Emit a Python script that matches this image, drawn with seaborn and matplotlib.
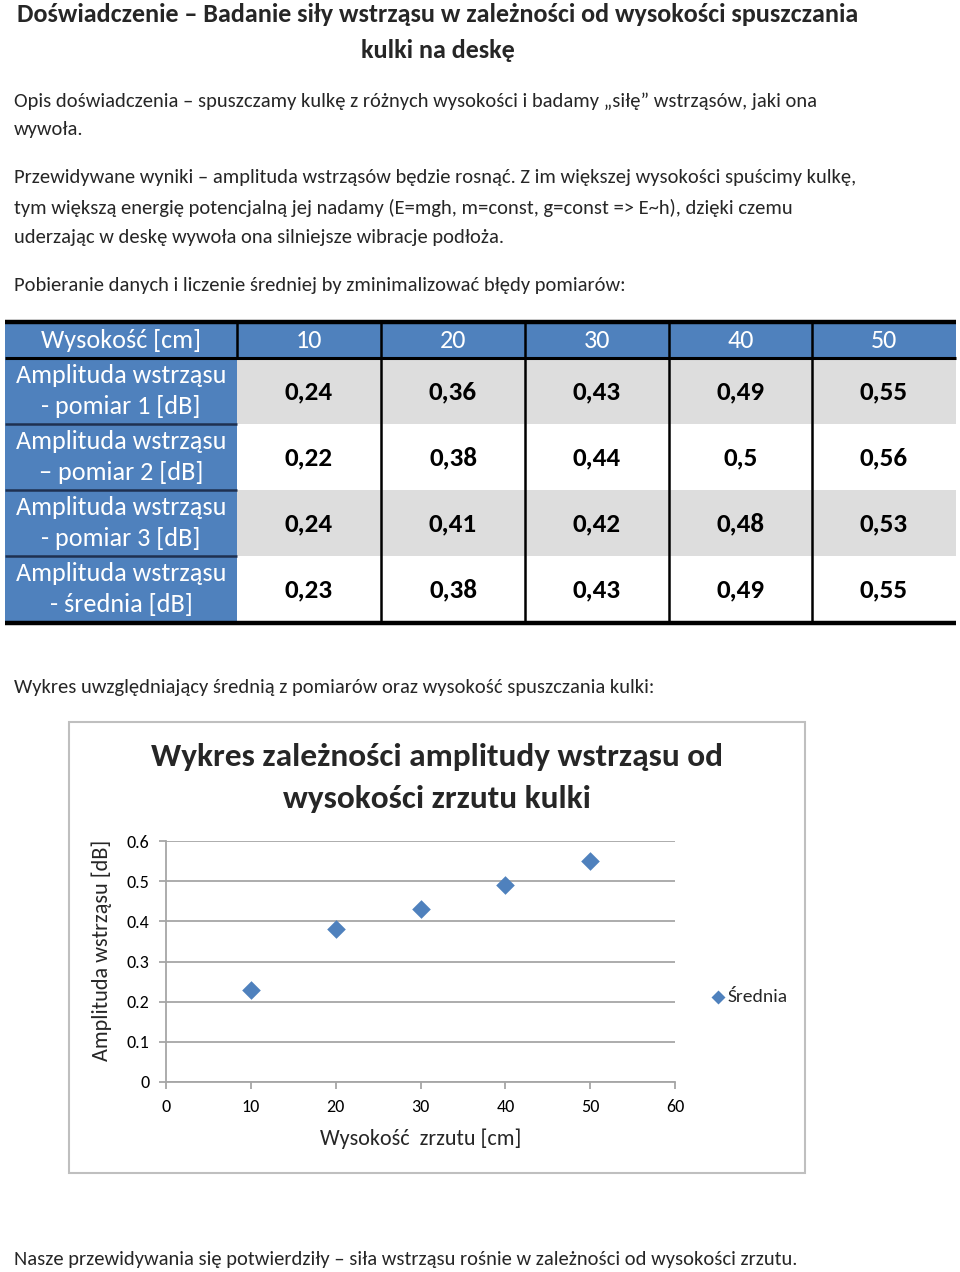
import matplotlib
matplotlib.use("Agg")
import matplotlib.pyplot as plt
from matplotlib import font_manager
from matplotlib.patches import Rectangle
import seaborn as sns
import pandas as pd

# ---------------- data ----------------
heights = [10, 20, 30, 40, 50]
pomiar1 = [0.24, 0.36, 0.43, 0.49, 0.55]
pomiar2 = [0.22, 0.38, 0.44, 0.50, 0.56]
pomiar3 = [0.24, 0.41, 0.42, 0.48, 0.53]
srednia = [0.23, 0.38, 0.43, 0.49, 0.55]

header_label = "Wysokość [cm]"
row_labels = ["Amplituda wstrząsu\n- pomiar 1 [dB]",
              "Amplituda wstrząsu\n– pomiar 2 [dB]",
              "Amplituda wstrząsu\n- pomiar 3 [dB]",
              "Amplituda wstrząsu\n- średnia [dB]"]

title_lines = ["Doświadczenie – Badanie siły wstrząsu w zależności od wysokości spuszczania",
               "kulki na deskę"]
body_lines = [
    "Opis doświadczenia – spuszczamy kulkę z różnych wysokości i badamy „siłę” wstrząsów, jaki ona",
    "wywoła.",
    "Przewidywane wyniki – amplituda wstrząsów będzie rosnąć. Z im większej wysokości spuścimy kulkę,",
    "tym większą energię potencjalną jej nadamy (E=mgh, m=const, g=const => E~h), dzięki czemu",
    "uderzając w deskę wywoła ona silniejsze wibracje podłoża.",
    "Pobieranie danych i liczenie średniej by zminimalizować błędy pomiarów:",
]
chart_intro = "Wykres uwzględniający średnią z pomiarów oraz wysokość spuszczania kulki:"
footer = "Nasze przewidywania się potwierdziły – siła wstrząsu rośnie w zależności od wysokości zrzutu."
chart_title = "Wykres zależności amplitudy wstrząsu od\nwysokości zrzutu kulki"
xlabel = "Wysokość  zrzutu [cm]"
ylabel = "Amplituda wstrząsu [dB]"
legend_label = "Średnia"
xticks = [0, 10, 20, 30, 40, 50, 60]
yticks = [0, 0.1, 0.2, 0.3, 0.4, 0.5, 0.6]

# ---------------- style ----------------
sns.set_theme(style="white")
avail = {f.name for f in font_manager.fontManager.ttflist}
main_font = next((f for f in ["Carlito", "Lato", "Open Sans", "DejaVu Sans"] if f in avail), "DejaVu Sans")
plt.rcParams["font.family"] = [main_font, "DejaVu Sans"]

BLUE = "#4F81BD"
GRAY = "#DDDDDD"

W, H = 960, 1272
fig = plt.figure(figsize=(W / 100, H / 100), dpi=100)
fig.patch.set_facecolor("white")

bg = fig.add_axes([0, 0, 1, 1])
bg.set_xlim(0, W)
bg.set_ylim(H, 0)
bg.axis("off")

# title
bg.text(438, 14, title_lines[0], ha="center", va="center", fontsize=18.8, fontweight="bold")
bg.text(438, 50, title_lines[1], ha="center", va="center", fontsize=18.8, fontweight="bold")

# body
BODY_FS = 14.8
body_y = [101, 130, 178, 208, 238, 286]
for s, y in zip(body_lines, body_y):
    bg.text(14, y, s, ha="left", va="center", fontsize=BODY_FS)
bg.text(14, 687, chart_intro, ha="left", va="center", fontsize=BODY_FS)
bg.text(14, 1260, footer, ha="left", va="center", fontsize=BODY_FS)

# ---------------- table ----------------
col_edges = [5, 237, 381, 525, 669, 812, 956]
top, hdr_bot = 322, 358
row_h = 66
row_tops = [hdr_bot + i * row_h for i in range(4)]
bottom = row_tops[-1] + row_h

bg.add_patch(Rectangle((col_edges[0], top), col_edges[-1] - col_edges[0], hdr_bot - top,
                       facecolor=BLUE, edgecolor="none"))
bg.add_patch(Rectangle((col_edges[0], hdr_bot), col_edges[1] - col_edges[0], bottom - hdr_bot,
                       facecolor=BLUE, edgecolor="none"))
for i, rt in enumerate(row_tops):
    fc = GRAY if i % 2 == 0 else "white"
    bg.add_patch(Rectangle((col_edges[1], rt), col_edges[-1] - col_edges[1], row_h,
                           facecolor=fc, edgecolor="none"))

bg.plot([col_edges[0], col_edges[-1]], [top, top], color="black", lw=3.2, solid_capstyle="butt")
bg.plot([col_edges[0], col_edges[-1]], [hdr_bot, hdr_bot], color="black", lw=2.2, solid_capstyle="butt")
bg.plot([col_edges[0], col_edges[-1]], [bottom + 1, bottom + 1], color="black", lw=3.2, solid_capstyle="butt")
for x in col_edges[1:-1]:
    bg.plot([x, x], [top, hdr_bot], color="black", lw=1.8)
for x in col_edges[2:-1]:
    bg.plot([x, x], [hdr_bot, bottom], color="black", lw=1.8)
for rt in row_tops[1:]:
    bg.plot([col_edges[0], col_edges[1]], [rt, rt], color="#1F3050", lw=1.8, solid_capstyle="butt")

TBL_FS = 18.8
bg.text((col_edges[0] + col_edges[1]) / 2, 341, header_label, ha="center", va="center",
        fontsize=TBL_FS, color="white")
for j, h in enumerate(heights):
    cx = (col_edges[j + 1] + col_edges[j + 2]) / 2
    bg.text(cx, 341, str(h), ha="center", va="center", fontsize=TBL_FS, color="white")

table_rows = [pomiar1, pomiar2, pomiar3, srednia]
for i, (lab, vals) in enumerate(zip(row_labels, table_rows)):
    cy = row_tops[i] + row_h / 2
    l1, l2 = lab.split("\n")
    bg.text((col_edges[0] + col_edges[1]) / 2, cy - 15.5, l1, ha="center", va="center",
            fontsize=TBL_FS, color="white")
    bg.text((col_edges[0] + col_edges[1]) / 2, cy + 15.5, l2, ha="center", va="center",
            fontsize=TBL_FS, color="white")
    for j, v in enumerate(vals):
        cx = (col_edges[j + 1] + col_edges[j + 2]) / 2
        bg.text(cx, cy + 1, f"{v:g}".replace(".", ","), ha="center", va="center",
                fontsize=19.5, fontweight="bold", color="black")

# ---------------- chart ----------------
bg.add_patch(Rectangle((69, 722), 805 - 69, 1173 - 722, facecolor="white",
                       edgecolor="#BFBFBF", lw=1.5))
for k, line in enumerate(chart_title.split("\n")):
    bg.text(437, 757 + 42 * k, line, ha="center", va="center", fontsize=24, fontweight="bold")

px0, px1, py_top, py_bot = 166, 675, 841, 1082
ax = fig.add_axes([px0 / W, (H - py_bot) / H, (px1 - px0) / W, (py_bot - py_top) / H])
df = pd.DataFrame({"x": heights, "y": srednia})
sns.scatterplot(data=df, x="x", y="y", marker="D", s=90, color=BLUE, edgecolor=BLUE,
                linewidth=0, ax=ax, label=legend_label, zorder=3)
ax.set_xlim(0, 60)
ax.set_ylim(0, 0.6)
ax.set_xticks(xticks)
ax.set_yticks(yticks)
ax.set_xticklabels([f"{t:g}" for t in xticks])
ax.set_yticklabels([f"{t:g}" for t in yticks])
ax.grid(axis="y", color="#A6A6A6", lw=1.3)
ax.grid(axis="x", visible=False)
ax.set_axisbelow(True)
for side in ["top", "right"]:
    ax.spines[side].set_visible(False)
for side in ["left", "bottom"]:
    ax.spines[side].set_color("#A6A6A6")
    ax.spines[side].set_linewidth(1.3)
ax.tick_params(axis="both", which="major", length=5, width=1.3, color="#A6A6A6",
               labelsize=13, labelcolor="black", direction="out", bottom=True, left=True)
ax.tick_params(axis="y", pad=7)
ax.tick_params(axis="x", pad=7)
ax.set_xlabel(xlabel, fontsize=15.9, labelpad=10)
ax.set_ylabel(ylabel, fontsize=16)
ax.yaxis.set_label_coords((112 - px0) / (px1 - px0), (py_bot - 950) / (py_bot - py_top))
ax.patch.set_alpha(0)
ax.legend(loc="center left", bbox_to_anchor=((710 - px0) / (px1 - px0), (py_bot - 997) / (py_bot - py_top)),
          frameon=False, fontsize=14, handlelength=0.8, handletextpad=0.1, borderpad=0,
          borderaxespad=0, markerscale=0.75)

fig.savefig("out.png", dpi=100, facecolor="white")
